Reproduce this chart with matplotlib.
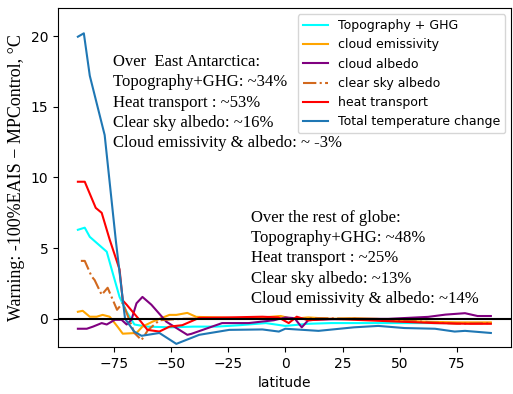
import matplotlib
matplotlib.use("Agg")
import matplotlib.pyplot as plt

# latitude / warming (deg C)
lat_topo = [-90.6, -87.6, -85.4, -78.0, -75.4, -72.4, -69.3, -65.9, -60.6, -50, -40, -30,
            -20, -8.5, 0, 10, 20, 40, 60, 75, 89.8]
val_topo = [6.3, 6.45, 5.8, 4.75, 3.25, 1.55, 0.5, -0.4, -0.55, -0.6, -0.55, -0.55,
            -0.45, -0.3, -0.5, -0.35, -0.3, -0.3, -0.3, -0.3, -0.3]

lat_emis = [-90.6, -88.5, -85.4, -82.4, -79.8, -76.7, -73.3, -71.0, -65.0, -62.4, -58.0,
            -50.6, -47.6, -42.8, -38.9, -30, -20, -10, -2, 3, 10, 20, 30, 40, 50, 60, 75, 89.8]
val_emis = [0.5, 0.57, 0.15, 0.15, 0.28, 0.15, -0.55, -1.05, -1.0, -0.55, -0.2,
            0.28, 0.28, 0.42, 0.14, 0.1, 0.05, 0.1, 0.2, 0.0, 0.1, 0.0, 0.05, 0.0, -0.1, -0.2, -0.25, -0.25]

lat_calb = [-90.6, -86.7, -84.0, -80.2, -78.0, -74.5, -71.5, -69.3, -67.2, -65.0, -62.4,
            -58.5, -52.0, -42.8, -41.0, -27.6, -16.0, -5.0, 0.0, 4.0, 7.2, 10.0, 15, 30, 45,
            62.4, 70, 78.5, 84, 89.8]
val_calb = [-0.7, -0.7, -0.55, -0.3, -0.4, -0.07, -0.07, -0.4, -0.07, 1.1, 1.55,
            1.0, -0.2, -1.13, -1.06, -0.3, -0.3, -0.1, 0.1, 0.05, -0.6, -0.1, -0.05, 0.0, 0.0,
            0.14, 0.3, 0.4, 0.2, 0.2]

lat_clr = [-89.3, -87.6, -84.6, -83.3, -80.2, -77.6, -73.5, -71.0, -65.9, -62.8, -60,
           -55, -45, -30, -15, 0, 15, 30, 45, 60, 75, 89.8]
val_clr = [4.1, 4.1, 3.0, 2.75, 1.7, 2.2, 0.64, 1.13, -1.0, -1.5, -0.8,
           -0.1, 0.0, 0.05, 0.0, 0.0, 0.05, 0.0, -0.1, -0.2, -0.35, -0.3]

lat_heat = [-90.6, -87.6, -82.8, -80.2, -76.7, -72.4, -71.0, -69.3, -63.7, -60.2, -55.0,
            -50.6, -45.0, -37.6, -25, -10, -3, 1.5, 5, 10, 20, 35, 50, 65, 80, 89.8]
val_heat = [9.7, 9.7, 7.85, 7.5, 5.6, 3.5, 1.3, 1.0, -0.07, -0.78, -0.9,
            -0.55, -0.45, 0.07, 0.1, 0.15, 0.1, -0.3, 0.15, -0.1, 0.0, -0.1, -0.2, -0.3, -0.35, -0.35]

lat_tot = [-90.6, -88.0, -85.4, -78.9, -74.0, -70.0, -66.0, -62.8, -55.0, -47.6, -37.6,
           -24.5, -10, -2.8, 0, 14.5, 30, 40.6, 52, 65.4, 74, 78.5, 89.8]
val_tot = [19.96, 20.2, 17.2, 13.0, 5.5, 0.0, -0.9, -1.2, -1.0, -1.77, -1.13,
           -0.78, -0.75, -0.9, -0.7, -0.85, -0.6, -0.5, -0.65, -0.7, -0.9, -0.85, -1.0]

text_ea = ["Over  East Antarctica:", "Topography+GHG: ~34%", "Heat transport : ~53%",
           "Clear sky albedo: ~16%", "Cloud emissivity & albedo: ~ -3%"]
text_rest = ["Over the rest of globe:", "Topography+GHG: ~48%", "Heat transport : ~25%",
             "Clear sky albedo: ~13%", "Cloud emissivity & albedo: ~14%"]

fig = plt.figure(figsize=(5.13, 3.94), dpi=100)
ax = fig.add_axes([0.113, 0.119, 0.884, 0.861])

ax.plot(lat_topo, val_topo, color="cyan", lw=1.5, label="Topography + GHG")
ax.plot(lat_emis, val_emis, color="orange", lw=1.5, label="cloud emissivity")
ax.plot(lat_calb, val_calb, color="purple", lw=1.5, label="cloud albedo")
ax.plot(lat_clr, val_clr, color="chocolate", lw=1.5, ls="-.", label="clear sky albedo")
ax.plot(lat_heat, val_heat, color="red", lw=1.5, label="heat transport")
ax.plot(lat_tot, val_tot, color="#1f77b4", lw=1.5, label="Total temperature change")
ax.axhline(0, color="black", lw=1.5)

ax.set_xlim(-99.3, 98.8)
ax.set_ylim(-2.0, 22.0)
ax.set_xticks([-75, -50, -25, 0, 25, 50, 75])
ax.set_yticks([0, 5, 10, 15, 20])
ax.set_xlabel("latitude")
ax.set_ylabel("Warning: -100%EAIS \u2212 MPControl, \u00b0C", family="Liberation Serif",
              fontsize=13)

ax.text(-75.3, 15.3, "\n".join(text_ea), family="Liberation Serif", fontsize=12,
        va="center", ha="left", linespacing=1.36)
ax.text(-15.1, 4.28, "\n".join(text_rest), family="Liberation Serif", fontsize=12,
        va="center", ha="left", linespacing=1.36)

ax.legend(loc="upper right", fontsize=9)

fig.savefig("out.png", dpi=100)
